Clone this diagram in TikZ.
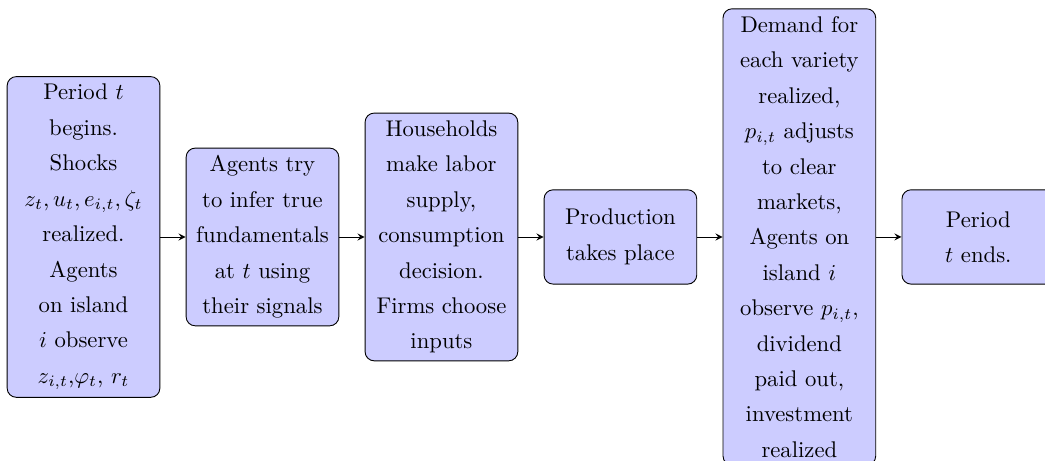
\documentclass[tikz,border=0pt]{standalone}
\usetikzlibrary{arrows}

\tikzset{
  stage/.style={draw, fill=blue!20, rounded corners, align=center,
    text width=2.13cm, minimum height=1.46cm,
    font=\linespread{1.3}\selectfont},
  flow/.style={->, >=stealth}
}

\begin{document}
\begin{tikzpicture}

  % fenster wie in der vorlage
  \clip (0,0) rectangle (16.18,7.137);

  % die sechs schritte einer periode
  \node[stage] (begin)  at (1.293,3.468)  {Period $t$\\ begins.\\ Shocks\\ $z_t,u_t,e_{i,t},\zeta_t$\\ realized.\\ Agents\\ on island\\ $i$ observe\\ $z_{i,t}$,$\varphi_t$, $r_t$};
  \node[stage] (infer)  at (4.064,3.468)  {Agents try\\ to infer true\\ fundamentals\\ at $t$ using\\ their signals};
  \node[stage] (choose) at (6.835,3.468)  {Households\\ make labor\\ supply,\\ consumption\\ decision.\\ Firms choose\\ inputs};
  \node[stage] (prod)   at (9.606,3.468)  {Production\\ takes place};
  \node[stage] (market) at (12.377,3.468) {Demand for\\ each variety\\ realized,\\ $p_{i,t}$ adjusts\\ to clear\\ markets,\\ Agents on\\ island $i$\\ observe $p_{i,t}$,\\ dividend\\ paid out,\\ investment\\ realized};
  \node[stage] (finish) at (15.148,3.468) {Period\\ $t$ ends.};

  % pfeile
  \draw[flow] (begin)  -- (infer);
  \draw[flow] (infer)  -- (choose);
  \draw[flow] (choose) -- (prod);
  \draw[flow] (prod)   -- (market);
  \draw[flow] (market) -- (finish);

\end{tikzpicture}
\end{document}
